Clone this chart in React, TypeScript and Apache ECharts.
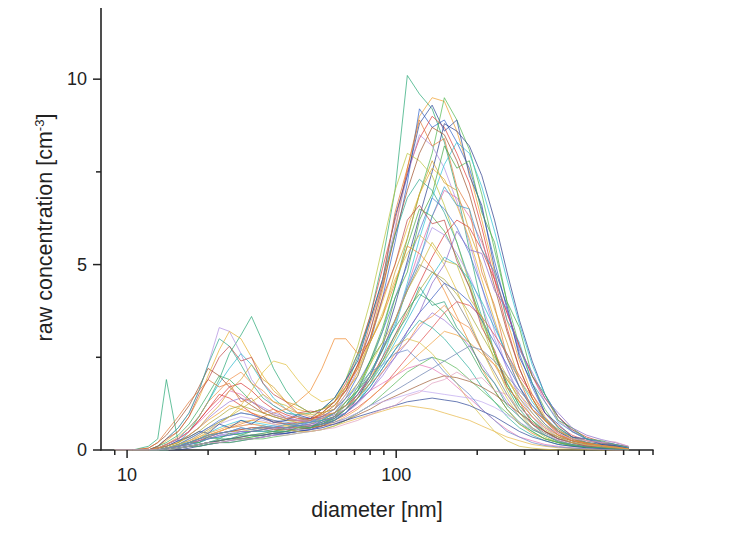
import React, { useEffect, useRef } from "react";
import * as echarts from "echarts";

// bin diameters [nm]
const diameters = [9, 10.5, 12, 13, 14, 15.5, 17, 18.5, 20, 22, 24, 26.5, 29, 32, 35, 39, 43, 48, 53, 59, 65, 72, 80, 89, 99, 110, 122, 136, 151, 168, 187, 208, 232, 258, 287, 320, 357, 400, 450, 510, 580, 650, 730];

// raw concentrations [cm^-3], one array per measurement
const s01 = [0,0,0.1,0.3,1.9,0.2,0.5,0.9,1.3,1.9,2.6,3.1,3.6,2.9,2.2,1.6,1.2,1.0,1.1,1.3,1.7,2.5,3.6,5.1,7.0,10.1,9.6,9.2,8.3,7.0,5.4,3.9,2.6,1.7,1.1,0.7,0.4,0.25,0.15,0.1,0.08,0.05,0];
const s02 = [0,0,0,0.05,0.1,0.2,0.4,0.6,0.8,1.0,1.2,1.1,1.0,0.9,0.8,0.7,0.7,0.8,0.9,1.1,1.5,2.1,3.0,4.3,5.9,7.6,9.0,9.5,9.4,8.6,7.5,6.2,4.8,3.5,2.4,1.5,0.9,0.5,0.3,0.18,0.1,0.06,0.02];
const s03 = [0,0,0,0,0.05,0.1,0.15,0.2,0.3,0.35,0.4,0.45,0.5,0.55,0.6,0.6,0.65,0.7,0.8,1.0,1.4,2.0,2.9,4.1,5.6,7.2,9.2,8.7,8.9,8.3,7.6,6.5,5.1,3.8,2.6,1.7,1.0,0.6,0.35,0.2,0.12,0.07,0.03];
const s04 = [0,0,0,0,0,0.05,0.1,0.15,0.2,0.25,0.3,0.3,0.35,0.4,0.45,0.5,0.55,0.6,0.7,0.85,1.1,1.6,2.3,3.2,4.4,5.7,6.9,8.0,9.5,8.9,8.1,6.9,5.4,4.0,2.8,1.8,1.1,0.6,0.35,0.2,0.15,0.1,0.05];
const s05 = [0,0,0,0.05,0.15,0.3,0.5,0.8,1.1,1.5,1.4,1.2,1.0,0.85,0.75,0.7,0.75,0.8,1.0,1.3,1.8,2.6,3.6,4.9,6.2,7.5,8.4,9.0,8.7,8.0,7.2,6.0,4.6,3.3,2.2,1.4,0.8,0.45,0.25,0.15,0.1,0.06,0.02];
const s06 = [0,0,0,0,0,0,0.05,0.1,0.15,0.2,0.25,0.3,0.3,0.35,0.4,0.45,0.5,0.55,0.65,0.8,1.0,1.4,2.0,2.8,3.9,5.1,6.3,7.5,8.8,8.6,8.2,7.4,6.2,4.8,3.5,2.4,1.5,0.9,0.5,0.3,0.2,0.12,0.05];
const s07 = [0,0,0,0.1,0.3,0.6,1.0,1.6,2.3,3.3,3.2,2.6,1.9,1.5,1.2,1.0,0.9,0.85,0.9,1.1,1.5,2.2,3.2,4.5,6.0,7.4,8.5,8.2,7.6,6.7,5.6,4.4,3.2,2.2,1.4,0.9,0.5,0.3,0.2,0.12,0.08,0.05,0.02];
const s08 = [0,0,0,0,0.05,0.1,0.2,0.3,0.45,0.6,0.7,0.8,0.75,0.7,0.65,0.6,0.6,0.65,0.7,0.8,1.0,1.3,1.8,2.5,3.4,4.5,5.7,6.8,7.7,8.3,8.0,7.1,5.9,4.6,3.4,2.3,1.5,0.9,0.55,0.3,0.2,0.12,0.06];
const s09 = [0,0,0,0,0.05,0.1,0.15,0.25,0.35,0.45,0.5,0.5,0.55,0.6,0.6,0.65,0.7,0.8,1.0,1.3,1.9,2.8,4.0,5.5,7.0,8.0,7.8,7.4,6.6,5.6,4.5,3.4,2.4,1.6,1.0,0.6,0.35,0.2,0.12,0.08,0.05,0.03,0];
const s10 = [0,0,0.05,0.2,0.4,0.8,1.2,1.7,2.2,2.0,1.7,1.4,1.2,1.0,0.9,0.8,0.8,0.85,0.95,1.2,1.6,2.3,3.2,4.4,5.8,7.0,8.0,8.7,8.5,7.8,6.9,5.7,4.4,3.2,2.2,1.4,0.85,0.5,0.3,0.18,0.1,0.06,0.02];
const s11 = [0,0,0,0.1,0.25,0.5,0.9,1.4,2.0,2.7,3.2,3.0,2.5,2.0,1.6,1.3,1.1,1.0,1.1,1.3,1.7,2.3,3.0,4.0,5.0,6.0,6.9,7.6,7.3,6.6,5.7,4.6,3.5,2.5,1.7,1.1,0.7,0.4,0.25,0.15,0.1,0.06,0.03];
const s12 = [0,0,0,0.1,0.3,0.6,1.0,1.6,2.3,3.0,2.8,2.3,1.8,1.4,1.2,1.0,0.95,1.0,1.1,1.4,1.9,2.6,3.5,4.6,5.8,6.8,7.3,7.0,6.4,5.6,4.6,3.6,2.6,1.8,1.2,0.8,0.5,0.3,0.2,0.12,0.08,0.05,0.02];
const s13 = [0,0,0,0,0.05,0.1,0.2,0.3,0.4,0.5,0.6,0.65,0.7,0.65,0.6,0.6,0.6,0.65,0.75,0.9,1.1,1.5,2.0,2.7,3.5,4.4,5.4,6.3,7.0,6.8,6.3,5.6,4.7,3.7,2.8,2.0,1.3,0.8,0.5,0.3,0.2,0.15,0.08];
const s14 = [0,0,0,0,0.05,0.15,0.3,0.45,0.6,0.8,0.9,1.0,0.95,0.85,0.8,0.75,0.7,0.75,0.85,1.0,1.3,1.8,2.4,3.2,4.1,5.0,5.9,6.8,6.5,6.0,5.3,4.4,3.4,2.5,1.7,1.1,0.7,0.4,0.25,0.15,0.1,0.06,0.03];
const s15 = [0,0,0,0,0,0.05,0.1,0.15,0.2,0.25,0.3,0.3,0.35,0.4,0.45,0.5,0.55,0.6,0.7,0.9,1.2,1.7,2.4,3.3,4.4,5.5,6.5,6.3,5.9,5.2,4.4,3.5,2.6,1.8,1.2,0.8,0.5,0.3,0.2,0.12,0.08,0.05,0.02];
const s16 = [0,0,0,0.05,0.15,0.3,0.5,0.8,1.1,1.4,1.7,1.8,1.6,1.3,1.1,0.95,0.85,0.85,0.9,1.0,1.2,1.5,1.9,2.5,3.1,3.8,4.5,5.2,5.8,6.2,6.0,5.4,4.6,3.7,2.8,2.0,1.4,0.9,0.55,0.35,0.22,0.15,0.08];
const s17 = [0,0,0,0,0.05,0.1,0.15,0.25,0.3,0.4,0.45,0.5,0.5,0.5,0.55,0.55,0.6,0.65,0.75,0.9,1.1,1.5,2.0,2.7,3.5,4.3,5.2,6.0,5.8,5.3,4.7,3.9,3.0,2.2,1.5,1.0,0.6,0.35,0.2,0.12,0.08,0.05,0.02];
const s18 = [0,0,0,0,0.05,0.1,0.2,0.35,0.5,0.7,0.9,1.2,1.6,2.1,2.4,2.3,1.9,1.5,1.3,1.4,1.7,2.2,2.9,3.7,4.6,5.3,5.8,5.5,5.0,4.3,3.5,2.7,2.0,1.4,0.9,0.6,0.4,0.25,0.15,0.1,0.06,0.04,0.02];
const s19 = [0,0,0,0,0.05,0.1,0.2,0.3,0.4,0.5,0.6,0.7,0.8,0.9,1.0,1.1,1.3,1.6,2.2,3.0,3.0,2.6,2.9,3.6,4.5,5.5,5.3,4.9,4.3,3.6,2.9,2.2,1.6,1.1,0.7,0.45,0.3,0.2,0.12,0.08,0.05,0.03,0];
const s20 = [0,0,0,0.05,0.15,0.3,0.6,0.9,1.3,1.8,2.2,2.6,2.3,1.8,1.4,1.1,0.9,0.8,0.85,0.95,1.1,1.4,1.8,2.3,2.9,3.5,4.1,4.7,5.2,5.0,4.6,4.0,3.3,2.6,1.9,1.3,0.85,0.5,0.3,0.2,0.12,0.08,0.04];
const s21 = [0,0,0,0,0,0.05,0.1,0.15,0.2,0.25,0.3,0.35,0.4,0.4,0.45,0.5,0.55,0.6,0.7,0.85,1.1,1.5,2.0,2.7,3.5,4.3,5.0,4.8,4.5,4.0,3.4,2.7,2.1,1.5,1.0,0.7,0.45,0.3,0.2,0.12,0.08,0.05,0.02];
const s22 = [0,0,0,0.05,0.1,0.2,0.35,0.5,0.7,0.9,1.1,1.2,1.1,1.0,0.9,0.8,0.75,0.75,0.8,0.9,1.1,1.4,1.8,2.4,3.0,3.7,4.3,4.8,4.6,4.2,3.7,3.1,2.5,1.9,1.4,1.0,0.65,0.4,0.25,0.15,0.1,0.06,0.03];
const s23 = [0,0,0,0,0,0.05,0.1,0.1,0.15,0.2,0.2,0.25,0.3,0.35,0.4,0.45,0.5,0.55,0.65,0.8,1.0,1.3,1.7,2.2,2.7,3.2,3.7,4.1,4.5,4.3,4.0,3.5,2.9,2.3,1.7,1.2,0.8,0.5,0.3,0.2,0.15,0.1,0.05];
const s24 = [0,0,0,0.1,0.2,0.4,0.7,1.1,1.5,2.0,1.9,1.6,1.3,1.1,0.95,0.85,0.8,0.8,0.85,1.0,1.2,1.6,2.1,2.7,3.3,3.8,4.2,4.0,3.7,3.2,2.7,2.1,1.6,1.1,0.75,0.5,0.3,0.2,0.12,0.08,0.05,0.03,0];
const s25 = [0,0,0,0,0.05,0.1,0.2,0.25,0.35,0.45,0.5,0.55,0.6,0.6,0.6,0.6,0.6,0.65,0.7,0.8,0.95,1.15,1.4,1.7,2.1,2.5,2.9,3.3,3.7,4.0,3.9,3.6,3.1,2.6,2.0,1.5,1.0,0.65,0.4,0.25,0.18,0.12,0.06];
const s26 = [0,0,0,0.05,0.1,0.25,0.4,0.6,0.85,1.1,1.3,1.4,1.3,1.15,1.0,0.9,0.8,0.75,0.8,0.85,1.0,1.25,1.6,2.0,2.5,2.9,3.3,3.7,3.5,3.2,2.8,2.3,1.8,1.3,0.9,0.6,0.4,0.25,0.15,0.1,0.06,0.04,0.02];
const s27 = [0,0,0,0,0.05,0.1,0.15,0.2,0.3,0.35,0.4,0.45,0.5,0.5,0.5,0.55,0.55,0.6,0.7,0.8,1.0,1.3,1.7,2.2,2.7,3.1,3.5,3.3,3.0,2.6,2.2,1.7,1.3,0.9,0.6,0.4,0.25,0.15,0.1,0.06,0.04,0.02,0];
const s28 = [0,0,0,0,0.05,0.15,0.25,0.35,0.45,0.55,0.65,0.75,0.8,0.75,0.7,0.65,0.6,0.6,0.65,0.75,0.9,1.1,1.4,1.7,2.0,2.3,2.6,2.9,3.2,3.1,2.9,2.6,2.3,1.9,1.5,1.1,0.8,0.5,0.35,0.25,0.18,0.12,0.05];
const s29 = [0,0,0,0,0,0.05,0.1,0.15,0.2,0.25,0.3,0.35,0.4,0.45,0.5,0.55,0.6,0.7,0.85,1.0,1.3,1.6,2.0,2.4,2.8,3.0,2.9,2.6,2.2,1.8,1.3,0.9,0.5,0.25,0.1,0.05,0.02,0,0,0,0,0,0];
const s30 = [0,0,0,0,0.05,0.15,0.3,0.45,0.6,0.75,0.9,1.0,0.95,0.85,0.75,0.7,0.65,0.65,0.7,0.75,0.85,1.0,1.2,1.4,1.6,1.8,2.0,2.2,2.4,2.6,2.8,2.7,2.4,2.0,1.6,1.2,0.85,0.55,0.35,0.25,0.18,0.12,0.06];
const s31 = [0,0,0,0,0,0.05,0.1,0.1,0.15,0.2,0.2,0.25,0.3,0.3,0.35,0.4,0.45,0.5,0.55,0.65,0.8,1.0,1.2,1.5,1.8,2.1,2.3,2.5,2.4,2.2,1.9,1.6,1.3,1.0,0.7,0.5,0.3,0.2,0.12,0.08,0.05,0.03,0];
const s32 = [0,0,0,0.05,0.15,0.3,0.5,0.75,1.0,1.3,1.6,1.5,1.3,1.1,0.95,0.85,0.8,0.8,0.85,0.95,1.1,1.3,1.6,1.8,2.0,2.2,2.3,2.2,2.0,1.7,1.4,1.1,0.8,0.55,0.35,0.25,0.15,0.1,0.06,0.04,0.02,0,0];
const s33 = [0,0,0,0,0.05,0.1,0.2,0.3,0.4,0.45,0.5,0.55,0.6,0.6,0.55,0.55,0.55,0.6,0.65,0.7,0.8,0.95,1.1,1.3,1.45,1.6,1.75,1.9,2.0,1.95,1.85,1.7,1.5,1.25,1.0,0.75,0.5,0.35,0.25,0.18,0.12,0.08,0.04];
const s34 = [0,0,0,0,0.05,0.1,0.25,0.4,0.55,0.7,0.8,0.9,0.85,0.8,0.7,0.6,0.55,0.55,0.6,0.7,0.85,1.0,1.2,1.3,1.4,1.5,1.6,1.55,1.5,1.45,1.4,1.3,1.15,0.95,0.75,0.55,0.4,0.28,0.2,0.14,0.1,0.06,0.03];
const s35 = [0,0,0,0,0,0.05,0.1,0.15,0.2,0.25,0.3,0.35,0.4,0.4,0.45,0.45,0.5,0.55,0.6,0.7,0.8,0.9,1.0,1.1,1.2,1.3,1.35,1.4,1.35,1.3,1.2,1.05,0.9,0.7,0.5,0.35,0.25,0.15,0.1,0.06,0.04,0.02,0];
const s36 = [0,0,0,0,0.05,0.1,0.2,0.3,0.4,0.5,0.6,0.65,0.7,0.65,0.6,0.55,0.5,0.5,0.55,0.65,0.75,0.85,0.95,1.05,1.15,1.2,1.15,1.1,1.0,0.9,0.8,0.65,0.5,0.35,0.25,0.15,0.1,0.06,0.04,0.02,0,0,0];
const s37 = [0,0,0,0.05,0.1,0.25,0.35,0.5,0.45,0.7,0.6,0.8,0.7,0.9,0.75,0.8,0.95,0.85,1.1,1.4,1.9,2.4,3.5,4.6,6.3,7.4,8.8,9.3,8.6,8.9,7.4,6.6,4.9,3.9,2.5,1.8,1.0,0.7,0.35,0.3,0.15,0.12,0.05];
const s38 = [0,0,0.05,0.2,0.5,0.9,1.3,1.6,1.9,1.7,1.8,1.3,1.4,1.0,1.1,0.85,0.9,0.8,1.0,1.1,1.7,2.2,3.4,4.5,6.4,7.6,8.9,8.2,8.4,7.1,6.5,4.8,3.9,2.5,1.9,1.1,0.8,0.4,0.3,0.15,0.12,0.05,0.02];
const s39 = [0,0,0,0,0.05,0.1,0.2,0.2,0.35,0.3,0.45,0.4,0.5,0.55,0.5,0.6,0.65,0.6,0.8,0.9,1.3,1.6,2.4,2.9,4.1,4.8,6.2,6.9,8.2,7.6,7.8,6.4,5.6,4.0,3.3,2.0,1.5,0.8,0.6,0.3,0.25,0.15,0.08];
const s40 = [0,0,0,0.05,0.1,0.2,0.4,0.6,0.9,1.2,1.6,1.9,2.3,1.9,1.7,1.3,1.2,1.0,1.1,1.2,1.6,2.0,2.9,3.6,4.8,5.7,6.9,7.8,7.2,7.0,5.9,5.0,3.8,2.9,1.9,1.4,0.8,0.55,0.3,0.2,0.12,0.08,0.03];
const s41 = [0,0,0,0,0.05,0.15,0.2,0.3,0.4,0.45,0.5,0.6,0.55,0.65,0.6,0.7,0.65,0.75,0.8,1.0,1.2,1.6,2.0,2.8,3.3,4.4,5.1,6.3,7.1,6.6,6.5,5.4,4.8,3.5,2.9,1.8,1.3,0.75,0.5,0.3,0.22,0.15,0.06];
const s42 = [0,0,0,0.1,0.3,0.5,0.9,1.5,1.9,2.5,2.8,2.4,2.5,1.8,1.5,1.3,1.0,1.05,1.0,1.3,1.6,2.3,3.0,4.1,5.0,6.2,6.6,6.1,6.2,5.1,4.4,3.3,2.7,1.7,1.3,0.7,0.5,0.3,0.2,0.1,0.08,0.04,0];
const s43 = [0,0,0,0,0.05,0.1,0.15,0.25,0.3,0.4,0.4,0.5,0.5,0.55,0.6,0.55,0.65,0.7,0.75,0.9,1.0,1.3,1.6,2.1,2.5,3.2,3.7,4.5,5.0,5.9,5.4,5.3,4.3,3.8,2.7,2.1,1.4,1.0,0.6,0.4,0.28,0.2,0.1];
const s44 = [0,0,0,0,0.05,0.15,0.25,0.4,0.55,0.75,0.9,1.1,1.3,1.5,1.3,1.2,1.0,0.95,1.0,1.1,1.4,1.8,2.3,2.9,3.5,4.3,4.9,5.6,5.1,5.0,4.1,3.6,2.6,2.0,1.3,0.9,0.55,0.35,0.2,0.14,0.08,0.05,0.02];
const s45 = [0,0,0,0,0,0.05,0.1,0.15,0.2,0.3,0.3,0.4,0.4,0.45,0.5,0.5,0.6,0.6,0.75,0.85,1.1,1.4,1.9,2.4,3.1,3.6,4.4,3.9,4.0,3.3,2.9,2.2,1.8,1.2,0.9,0.55,0.4,0.22,0.15,0.08,0.06,0.03,0];
const s46 = [0,0,0,0.05,0.15,0.35,0.6,0.9,1.3,1.6,1.9,2.1,1.8,1.6,1.3,1.1,1.0,0.9,0.95,1.0,1.2,1.4,1.8,2.1,2.6,2.9,3.4,3.6,3.9,3.5,3.3,2.7,2.3,1.7,1.3,0.9,0.6,0.4,0.25,0.18,0.12,0.08,0.03];
const s47 = [0,0,0,0,0.05,0.1,0.2,0.3,0.35,0.45,0.5,0.6,0.55,0.6,0.65,0.6,0.7,0.75,0.9,1.1,1.4,1.7,2.1,2.3,2.6,2.7,2.4,2.5,2.1,1.8,1.5,1.1,0.8,0.5,0.35,0.2,0.12,0.08,0.05,0.03,0.02,0,0];
const s48 = [0,0,0,0,0,0.05,0.1,0.15,0.2,0.2,0.25,0.3,0.3,0.35,0.4,0.4,0.45,0.5,0.55,0.6,0.7,0.8,0.95,1.1,1.2,1.45,1.55,1.8,1.9,2.1,1.9,1.95,1.6,1.5,1.1,0.9,0.6,0.45,0.3,0.25,0.2,0.22,0.1];

const runs = [s01, s02, s03, s04, s05, s06, s07, s08, s09, s10, s11, s12, s13, s14, s15, s16, s17, s18, s19, s20, s21, s22, s23, s24, s25, s26, s27, s28, s29, s30, s31, s32, s33, s34, s35, s36, s37, s38, s39, s40, s41, s42, s43, s44, s45, s46, s47, s48];

const runColors = [
  "#2aa876", "#f0a030", "#3366cc", "#52b852", "#e0403a", "#2c3e8c",
  "#b08ee0", "#2ec4d6", "#b8c43a", "#a0522d", "#e8b030", "#30a890",
  "#e06aa8", "#4a78d0", "#4cb04c", "#d83a3a", "#a890e8", "#e0c040",
  "#f08a30", "#28b8cc", "#7a7a7a", "#a8a83a", "#3a5cc0", "#3aa860",
  "#e05050", "#9a7ad8", "#30b0a0", "#f0a040", "#d8c048", "#6a80b0",
  "#58b858", "#e878b8", "#a0603a", "#c0a8f0", "#304898", "#e8b848",
  "#2c4a9a", "#e07838", "#48a848", "#d0a030", "#3aa0c8", "#c04848",
  "#8a68c8", "#c8b838", "#30a080", "#f09048", "#6888c8", "#e0a0c0",
];

// axis ticks
const xMinorTicks = [9, 20, 30, 40, 50, 60, 70, 80, 90, 200, 300, 400, 500, 600, 700, 800, 900];
const xMajorTicks = [10, 100];
const yMajorTicks = [0, 5, 10];
const yMinorTicks = [2.5, 7.5];

const FONT = "'Liberation Sans', Arial, sans-serif";
const AXIS_COLOR = "#222";

export default function App() {
  const ref = useRef<HTMLDivElement>(null);
  useEffect(() => {
    if (!ref.current) return;
    const chart = echarts.init(ref.current, undefined, { renderer: "svg" });

    const lineSeries = runs.map((vals, k) => ({
      type: "line",
      name: "run " + (k + 1),
      data: diameters.map((d, i) => [d, vals[i]]),
      showSymbol: false,
      symbol: "none",
      silent: true,
      lineStyle: { width: 0.8, color: runColors[k % runColors.length], opacity: 0.9 },
      z: 2,
    }));

    const tickSeries = (data: number[][], len: number, dir: "x" | "y") => ({
      type: "custom",
      coordinateSystem: "cartesian2d",
      silent: true,
      clip: false,
      z: 5,
      data,
      renderItem: (params: any, api: any) => {
        const p = api.coord([api.value(0), api.value(1)]);
        const shape =
          dir === "x"
            ? { x1: p[0], y1: p[1], x2: p[0], y2: p[1] + len }
            : { x1: p[0], y1: p[1], x2: p[0] - len, y2: p[1] };
        return { type: "line", shape, style: { stroke: AXIS_COLOR, lineWidth: 1.5 } };
      },
    });

    chart.setOption({
      animation: false,
      backgroundColor: "#ffffff",
      grid: { left: 101, top: 5, right: 80, bottom: 85, containLabel: false },
      xAxis: {
        type: "log",
        logBase: 10,
        min: 8,
        max: 900,
        name: "diameter [nm]",
        nameLocation: "middle",
        nameGap: 49,
        nameTextStyle: { fontSize: 21.5, color: AXIS_COLOR, fontFamily: FONT },
        axisLine: { onZero: false, lineStyle: { color: AXIS_COLOR, width: 1.6 } },
        axisTick: { show: false },
        splitLine: { show: false },
        minorTick: { show: false },
        axisLabel: {
          margin: 16,
          fontSize: 18,
          color: AXIS_COLOR,
          fontFamily: FONT,
          showMinLabel: true,
          showMaxLabel: true,
          formatter: (v: number) => {
            if (Math.abs(v - 10) < 1e-6) return "10";
            if (Math.abs(v - 100) < 1e-6) return "100";
            return "";
          },
        },
      },
      yAxis: {
        type: "value",
        min: 0,
        max: 12,
        interval: 5,
        name: "raw concentration [cm{sup|-3}]",
        nameLocation: "middle",
        nameGap: 37,
        nameTextStyle: {
          fontSize: 21.5,
          color: AXIS_COLOR,
          fontFamily: FONT,
          rich: { sup: { fontSize: 13, color: AXIS_COLOR, fontFamily: FONT, verticalAlign: "top", lineHeight: 24 } },
        },
        axisLine: { onZero: false, lineStyle: { color: AXIS_COLOR, width: 1.6 } },
        axisTick: { show: false },
        splitLine: { show: false },
        axisLabel: {
          margin: 14,
          fontSize: 18,
          color: AXIS_COLOR,
          fontFamily: FONT,
          showMaxLabel: false,
        },
      },
      series: [
        ...lineSeries,
        tickSeries(xMajorTicks.map((v) => [v, 0]), 8, "x"),
        tickSeries(xMinorTicks.map((v) => [v, 0]), 5, "x"),
        tickSeries(yMajorTicks.map((v) => [8, v]), 8, "y"),
        tickSeries(yMinorTicks.map((v) => [8, v]), 5, "y"),
      ],
    });

    return () => chart.dispose();
  }, []);

  return <div ref={ref} style={{ width: 733, height: 535, margin: -8 }} />;
}
